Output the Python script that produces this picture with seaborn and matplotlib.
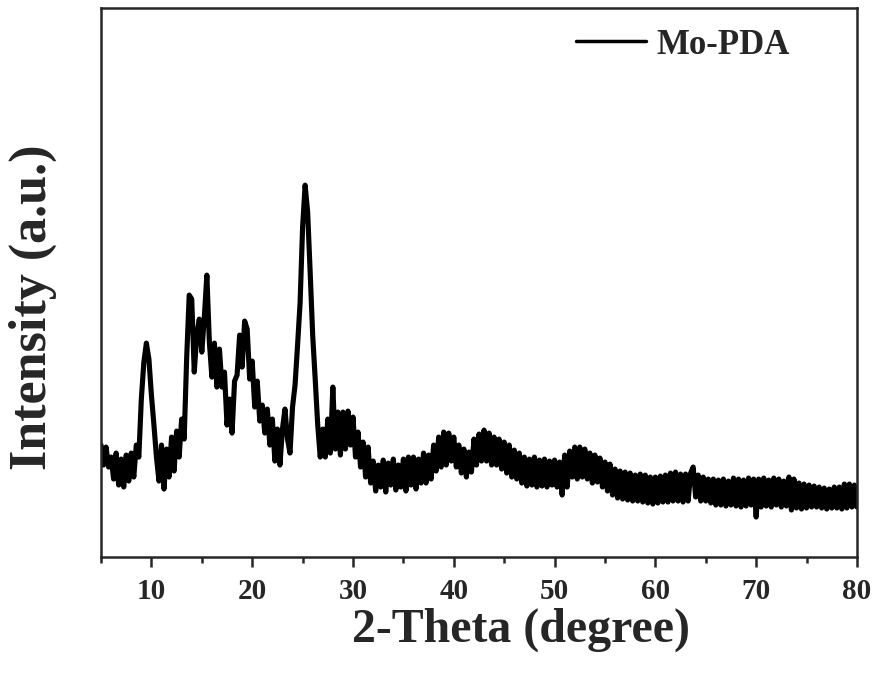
import numpy as np
import pandas as pd
import seaborn as sns
import matplotlib.pyplot as plt
from matplotlib.ticker import MultipleLocator

# XRD pattern of Mo-PDA (step 0.25 degree, 5 -> 80)
two_theta = np.arange(5, 80.001, 0.25)

intensity = [
    112, 92, 110, 90,    # 5
    100, 78, 104, 72,    # 6
    98, 70, 102, 76,     # 7
    104, 80, 112, 100,   # 8
    158, 195, 214, 198,  # 9
    162, 132, 100, 76,   # 10
    112, 68, 108, 80,    # 11
    120, 86, 126, 100,   # 12
    138, 118, 200, 262,  # 13
    258, 185, 222, 238,  # 14
    205, 240, 282, 215,  # 15
    180, 214, 170, 208,  # 16
    170, 185, 132, 158,  # 17
    124, 176, 182, 222,  # 18
    190, 236, 228, 178,  # 19
    196, 150, 176, 136,  # 20
    152, 124, 148, 112,  # 21
    138, 96, 128, 92,    # 22
    128, 148, 118, 104,  # 23
    150, 172, 212, 254,  # 24
    330, 372, 345, 285,  # 25
    222, 178, 132, 100,  # 26
    128, 100, 138, 104,  # 27
    170, 108, 145, 102,  # 28
    145, 108, 146, 112,  # 29
    140, 100, 125, 90,   # 30
    115, 80, 110, 74,    # 31
    96, 66, 92, 70,      # 32
    97, 65, 94, 72,      # 33
    98, 67, 92, 70,      # 34
    98, 66, 100, 72,     # 35
    100, 68, 98, 74,     # 36
    104, 74, 102, 78,    # 37
    112, 86, 120, 90,    # 38
    125, 92, 124, 96,    # 39
    120, 90, 112, 84,    # 40
    108, 80, 105, 85,    # 41
    118, 92, 123, 96,    # 42
    127, 96, 124, 92,    # 43
    120, 92, 118, 88,    # 44
    115, 84, 112, 80,    # 45
    107, 78, 104, 74,    # 46
    100, 71, 98, 72,     # 47
    100, 70, 97, 71,     # 48
    98, 70, 96, 72,      # 49
    97, 70, 95, 62,      # 50
    102, 70, 106, 80,    # 51
    110, 78, 110, 80,    # 52
    108, 78, 104, 74,    # 53
    102, 75, 99, 70,     # 54
    95, 66, 93, 62,      # 55
    88, 59, 86, 58,      # 56
    85, 57, 84, 56,      # 57
    82, 56, 83, 55,      # 58
    82, 54, 80, 53,      # 59
    80, 54, 81, 55,      # 60
    82, 55, 84, 56,      # 61
    85, 56, 83, 55,      # 62
    83, 56, 84, 90,      # 63
    60, 82, 56, 80,      # 64
    56, 78, 54, 78,      # 65
    52, 77, 52, 78,      # 66
    51, 76, 52, 79,      # 67
    51, 78, 50, 77,      # 68
    51, 79, 52, 78,      # 69
    40, 78, 50, 79,      # 70
    51, 77, 50, 79,      # 71
    52, 78, 50, 76,      # 72
    51, 80, 47, 78,      # 73
    49, 74, 48, 73,      # 74
    49, 72, 50, 71,      # 75
    50, 70, 49, 69,      # 76
    48, 68, 49, 70,      # 77
    49, 70, 48, 73,      # 78
    49, 73, 50, 72,      # 79
    50,                  # 80
]

xticks = [10, 20, 30, 40, 50, 60, 70, 80]

df = pd.DataFrame({"2theta": two_theta, "I": intensity})

sns.set_style("ticks")
plt.rcParams['font.family'] = ['Liberation Serif', 'DejaVu Serif']
plt.rcParams['font.weight'] = 'bold'

fig = plt.figure(figsize=(8.8, 6.75), dpi=100)
ax = fig.add_axes([0.1148, 0.1748, 0.859, 0.813])

sns.lineplot(data=df, x="2theta", y="I", ax=ax, color="black",
             linewidth=3.7, label="Mo-PDA", sort=False)

ax.set_xlim(5, 80)
ax.set_ylim(0, 549)
ax.set_xticks(xticks)
ax.xaxis.set_minor_locator(MultipleLocator(5))
ax.set_yticks([])
ax.tick_params(axis='x', which='major', direction='out', length=7, width=1.8,
               labelsize=21, pad=8)
ax.tick_params(axis='x', which='minor', direction='out', length=4, width=1.8)
for lab in ax.get_xticklabels():
    lab.set_fontweight('bold')
for sp in ax.spines.values():
    sp.set_linewidth(1.8)
    sp.set_visible(True)

ax.set_xlabel("2-Theta (degree)", fontsize=34.5, fontweight='bold')
ax.xaxis.set_label_coords(0.556, -0.092)
ax.set_ylabel("Intensity (a.u.)", fontsize=37.5, fontweight='bold')
ax.yaxis.set_label_coords(-0.058, 0.455)

leg = ax.legend(loc='center right', bbox_to_anchor=(0.911, 0.933),
                frameon=False, borderpad=0, borderaxespad=0,
                handlelength=2.0, handletextpad=0.3,
                prop={'family': 'Liberation Serif', 'weight': 'bold', 'size': 25})
for line in leg.get_lines():
    line.set_linewidth(2.5)

fig.savefig("out.png", dpi=100)
